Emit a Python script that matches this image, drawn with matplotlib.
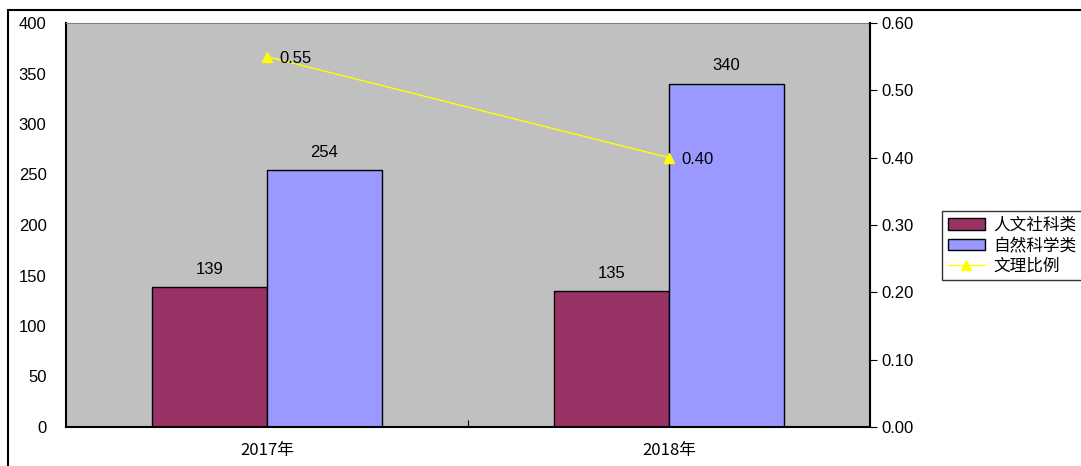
import matplotlib
matplotlib.use('Agg')
import matplotlib.pyplot as plt
from matplotlib.patches import Rectangle

plt.rcParams['font.family'] = ['Liberation Sans', 'Noto Sans CJK SC', 'DejaVu Sans']

# data
years = ['2017年', '2018年']
humanities = [139, 135]
sciences = [254, 340]
ratio = [0.55, 0.40]

W, H = 1081, 466
fig = plt.figure(figsize=(W / 100, H / 100), dpi=100)

# outer frame
fig.patches.append(Rectangle((8 / W, -0.1), 1.2, (H - 10) / H + 0.1,
                             transform=fig.transFigure, fill=False,
                             edgecolor='black', linewidth=1.5))

ax = fig.add_axes([66 / W, (H - 427) / H, (870 - 66) / W, (427 - 23) / H])
ax.set_facecolor('#C0C0C0')

x = [0, 1]
bw = 0.286
b1 = ax.bar([i - bw / 2 for i in x], humanities, bw, color='#993366',
            edgecolor='black', linewidth=1, label='人文社科类')
b2 = ax.bar([i + bw / 2 for i in x], sciences, bw, color='#9999FF',
            edgecolor='black', linewidth=1, label='自然科学类')
for rects, vals in ((b1, humanities), (b2, sciences)):
    for r, v in zip(rects, vals):
        ax.text(r.get_x() + r.get_width() / 2, v + 10, str(v),
                ha='center', va='bottom', fontsize=12)

ax.set_xlim(-0.5, 1.5)
ax.set_ylim(0, 400)
ax.set_yticks(range(0, 401, 50))
ax.set_xticks([0.5])
ax.set_xticklabels([''])
ax.tick_params(axis='x', direction='in', length=5)
for i, lab in zip(x, years):
    ax.text(i, -15, lab, ha='center', va='top', fontsize=12,
            family=['Noto Sans CJK SC'], transform=ax.transData)
ax.tick_params(axis='y', length=0, labelsize=12, pad=14)
for s in ['top', 'right']:
    ax.spines[s].set_color('#808080')
ax.spines['left'].set_linewidth(1.5)
ax.spines['bottom'].set_linewidth(1.5)

ax2 = ax.twinx()
ax2.set_ylim(0, 0.60)
ax2.set_yticks([0, 0.1, 0.2, 0.3, 0.4, 0.5, 0.6])
ax2.set_yticklabels([f'{v:.2f}' for v in [0, 0.1, 0.2, 0.3, 0.4, 0.5, 0.6]])
ax2.tick_params(axis='y', direction='out', length=5, labelsize=12)
ax2.spines['right'].set_linewidth(1.5)
ax2.spines['top'].set_visible(False)
ax2.spines['left'].set_visible(False)
ax2.spines['bottom'].set_visible(False)
ln, = ax2.plot(x, ratio, color='#FFFF00', marker='^', markersize=7,
               linewidth=1, label='文理比例')
for i, v in zip(x, ratio):
    ax2.text(i + 0.03, v - 0.003, f'{v:.2f}', ha='left', va='center', fontsize=12)

fig.legend(handles=[b1, b2, ln], loc='upper left',
           bbox_to_anchor=(942 / W, 1 - 211 / H), frameon=True,
           fancybox=False, edgecolor='black',
           prop={'family': ['Noto Sans CJK SC'], 'size': 12},
           handlelength=2.2, handleheight=0.7, labelspacing=0.2,
           borderpad=0.35, handletextpad=0.55, borderaxespad=0)

fig.savefig('out.png', dpi=100)
